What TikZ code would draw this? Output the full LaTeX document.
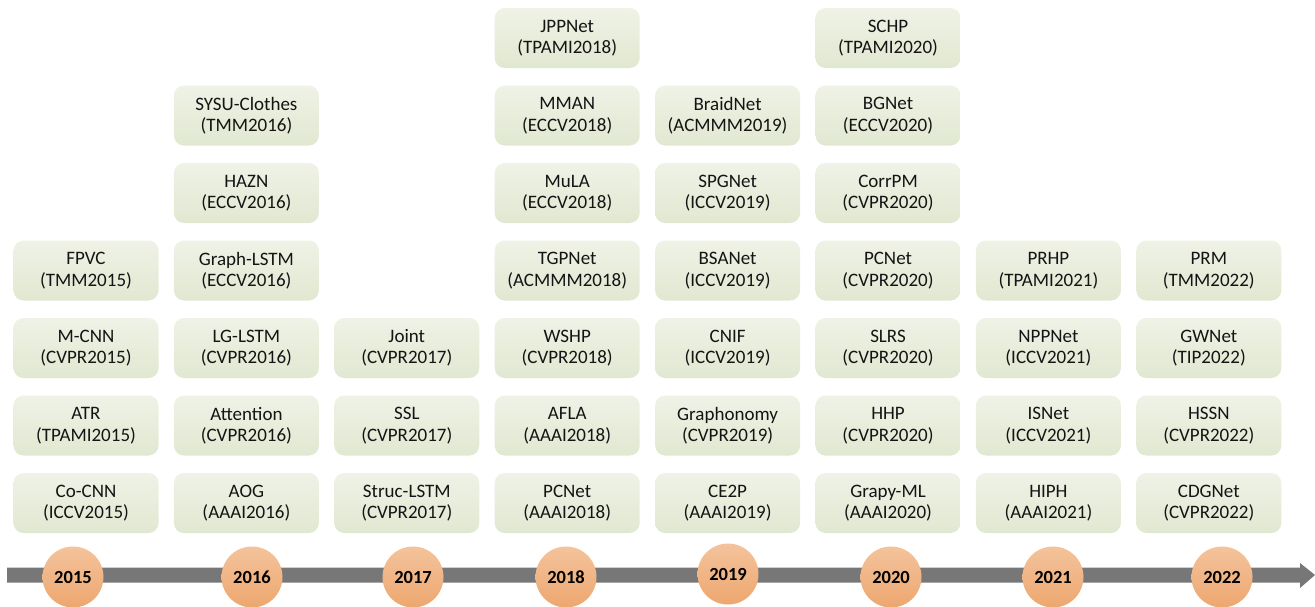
\documentclass[tikz,border=0pt]{standalone}
\usepackage{fontspec}
\setmainfont{Carlito}
\definecolor{boxtop}{HTML}{EFF2E6}
\definecolor{boxbot}{HTML}{E1E8D1}
\definecolor{circtop}{HTML}{F4C39C}
\definecolor{circbot}{HTML}{EDA76F}
\definecolor{bargray}{HTML}{777777}
\definecolor{txt}{HTML}{141414}
\tikzset{
  paperbox/.style={rounded corners=10pt, top color=boxtop, bottom color=boxbot, draw=none,
    minimum width=145pt, minimum height=60pt, inner sep=0pt, align=center, text=txt,
    font=\fontsize{19}{21.5}\selectfont},
  yearcirc/.style={circle, top color=circtop, bottom color=circbot, draw=none,
    minimum size=61pt, inner sep=0pt, font=\fontsize{18.5}{20}\bfseries\selectfont, text=black},
  timebar/.style={fill=bargray, draw=none}
}
\begin{document}
\begin{tikzpicture}[x=1pt,y=-1pt]
\useasboundingbox (0,0) rectangle (1315,606);
% timeline arrow
\coordinate (barstart) at (7,575);
\coordinate (bartip) at (1315,575);
\fill[timebar] (7,567.5) -- (1300,567.5) -- (1300,563) -- (bartip) -- (1300,588) -- (1300,582.5) -- (7,582.5) -- cycle;
% year circles
\foreach \yr/\cx/\cy in {2015/73/577,2016/252/577,2017/413/577,2018/566/577,2019/728/574,2020/891/577,2021/1053/577,2022/1222/577}{
  \node[yearcirc] (y\yr) at (\cx,\cy) {\yr};
}
% paper boxes: column / row / name / venue
\foreach \c/\r/\nm/\ven in {
  0/3/FPVC/TMM2015, 0/4/M-CNN/CVPR2015, 0/5/ATR/TPAMI2015, 0/6/Co-CNN/ICCV2015,
  1/1/SYSU-Clothes/TMM2016, 1/2/HAZN/ECCV2016, 1/3/Graph-LSTM/ECCV2016, 1/4/LG-LSTM/CVPR2016, 1/5/Attention/CVPR2016, 1/6/AOG/AAAI2016,
  2/4/Joint/CVPR2017, 2/5/SSL/CVPR2017, 2/6/Struc-LSTM/CVPR2017,
  3/0/JPPNet/TPAMI2018, 3/1/MMAN/ECCV2018, 3/2/MuLA/ECCV2018, 3/3/TGPNet/ACMMM2018, 3/4/WSHP/CVPR2018, 3/5/AFLA/AAAI2018, 3/6/PCNet/AAAI2018,
  4/1/BraidNet/ACMMM2019, 4/2/SPGNet/ICCV2019, 4/3/BSANet/ICCV2019, 4/4/CNIF/ICCV2019, 4/5/Graphonomy/CVPR2019, 4/6/CE2P/AAAI2019,
  5/0/SCHP/TPAMI2020, 5/1/BGNet/ECCV2020, 5/2/CorrPM/CVPR2020, 5/3/PCNet/CVPR2020, 5/4/SLRS/CVPR2020, 5/5/HHP/CVPR2020, 5/6/Grapy-ML/AAAI2020,
  6/3/PRHP/TPAMI2021, 6/4/NPPNet/ICCV2021, 6/5/ISNet/ICCV2021, 6/6/HIPH/AAAI2021,
  7/3/PRM/TMM2022, 7/4/GWNet/TIP2022, 7/5/HSSN/CVPR2022, 7/6/CDGNet/CVPR2022}{
  \pgfmathsetmacro{\bx}{86+160.4*\c}
  \pgfmathsetmacro{\by}{38+77.5*\r}
  \node[paperbox] (p-\c-\r) at (\bx,\by) {\nm\\(\ven)};
}
\end{tikzpicture}
\end{document}
